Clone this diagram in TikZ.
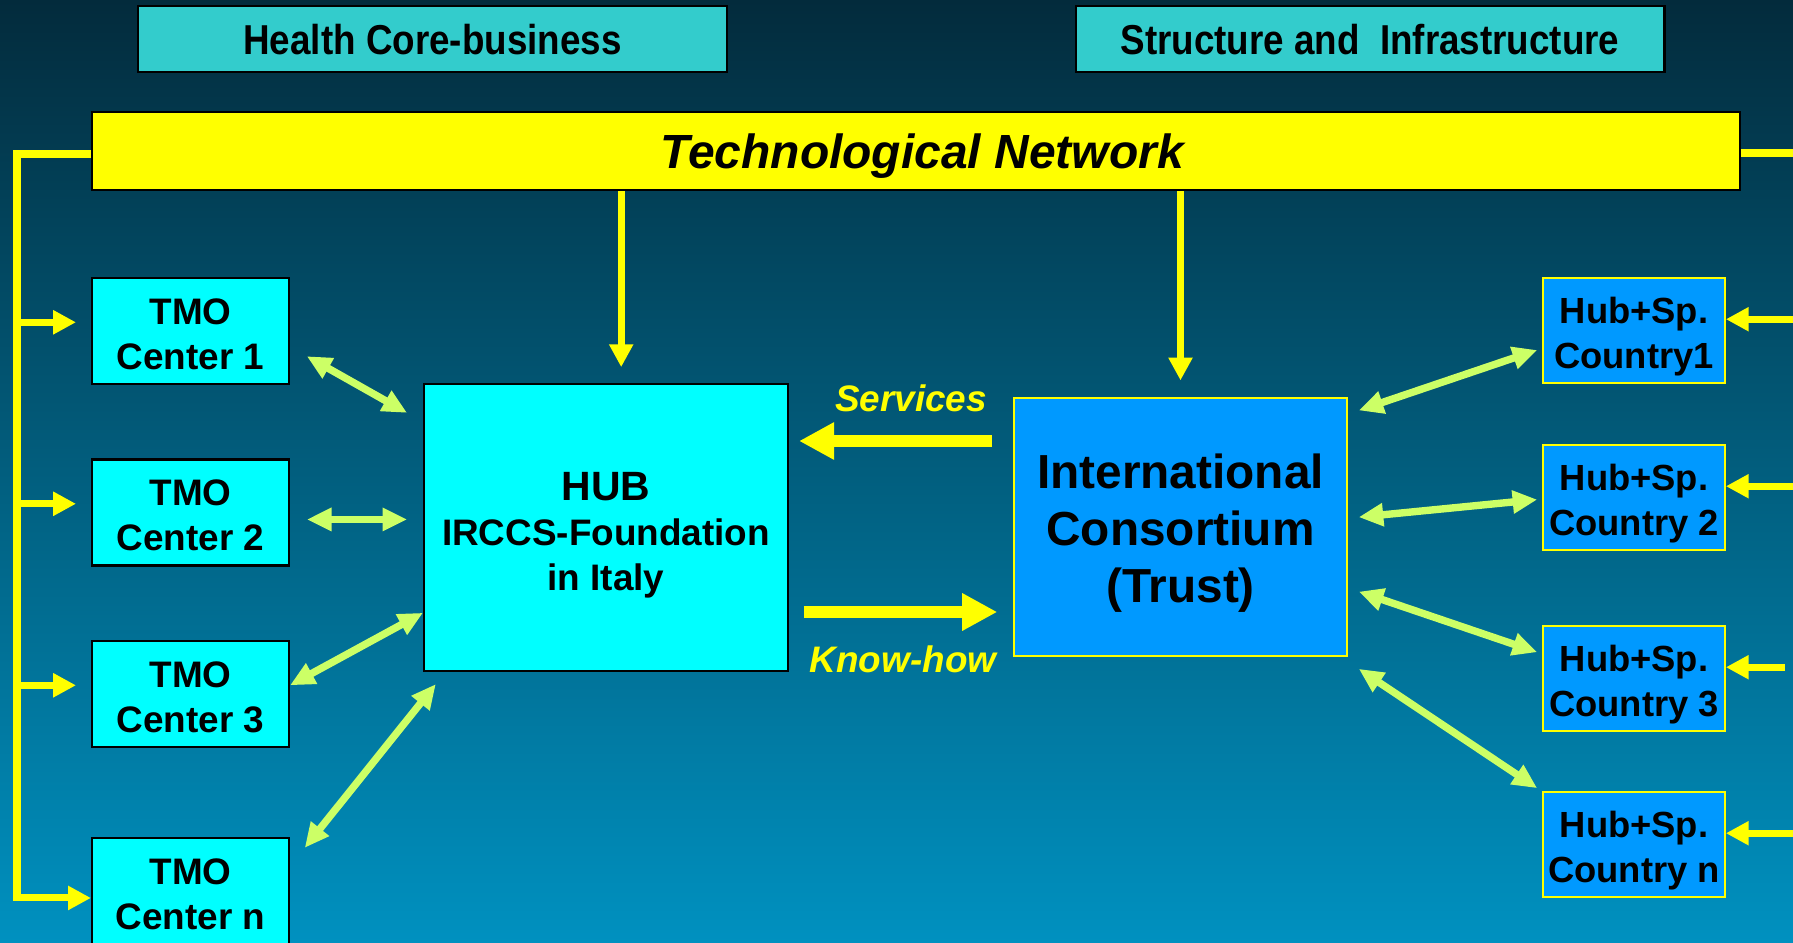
\documentclass[tikz,border=0pt]{standalone}
\usepackage{fontspec}
\setmainfont{Liberation Sans}
\newfontfamily\narrowfont[FakeStretch=0.88]{Liberation Sans}
\usetikzlibrary{arrows.meta}
\definecolor{bgTop}{RGB}{3,43,60}
\definecolor{bgBot}{RGB}{0,145,192}
\definecolor{hdrFill}{RGB}{51,204,204}
\definecolor{tmoFill}{RGB}{0,255,255}
\definecolor{ctyFill}{RGB}{0,153,255}
\definecolor{netYel}{RGB}{255,255,0}
\definecolor{linkGrn}{RGB}{204,255,102}
% stacked lines, lowered without changing the box size
\newcommand\stacklines[2]{\raisebox{-#1}[\height][\depth]{\begin{tabular}{@{}c@{}}#2\end{tabular}}}
\begin{document}
\begin{tikzpicture}[x=0.02cm,y=-0.02cm,
    box/.style={draw=black,line width=1.2pt,inner sep=0pt,
      font=\bfseries\fontsize{21}{25.6}\selectfont},
    hdr/.style={box,fill=hdrFill,minimum width=11.78cm,minimum height=1.32cm,
      text height=17.3pt,text depth=0pt,
      font=\narrowfont\bfseries\fontsize{23.8}{28}\selectfont},
    tmo/.style={box,fill=tmoFill,minimum width=3.94cm,minimum height=2.12cm},
    cty/.style={box,draw=netYel,line width=1pt,fill=ctyFill,minimum width=3.64cm,minimum height=2.1cm,
      font=\bfseries\fontsize{20.7}{25.6}\selectfont},
    feed/.style={draw=netYel,line width=4pt,-{Triangle[length=13pt,width=13pt]}},
    flow/.style={draw=netYel,line width=6.8pt,-{Triangle[length=20pt,width=20pt]}},
    link/.style={draw=linkGrn,line width=4.2pt,
      {Triangle[length=14pt,width=12.5pt]}-{Triangle[length=14pt,width=12.5pt]}},
    lbl/.style={text=netYel,inner sep=0pt,font=\bfseries\itshape\fontsize{21}{25}\selectfont}]
    \def\tx{190.5}
    \def\cx{1634}
    \shade[top color=bgTop,bottom color=bgBot] (0,0) rectangle (1793,943);
    \useasboundingbox (0,0) rectangle (1793,943);
    % headings and network bar
    \node[hdr] (Hdr_0) at (432.5,39) {Health Core-business};
    \node[hdr] (Hdr_1) at (1370,39) {Structure and\ \ Infrastructure};
    \node[box,fill=netYel,minimum width=32.96cm,minimum height=1.56cm,
      text height=19.9pt,text depth=0pt,
      font=\bfseries\itshape\fontsize{27.3}{30}\selectfont] (Net) at (916,151) {\hspace{7pt}Technological Network};
    % centres and countries
    \foreach \i/\y in {1/331,2/512.5,3/694,n/891}
      \node[tmo] (Tmo_\i) at (\tx,\y) {\stacklines{3.8pt}{TMO\\Center \i}};
    \foreach \i/\y/\t in {1/330.5/Country1,2/497.5/Country 2,3/678.5/Country 3,n/844.5/Country n}
      \node[cty] (Cty_\i) at (\cx,\y) {\stacklines{3.7pt}{Hub+Sp.\\\t}};
    \node[box,fill=tmoFill,minimum width=7.28cm,minimum height=5.74cm,
      font=\bfseries\fontsize{21}{25.5}\selectfont] (Hub) at (606,527.5)
      {\stacklines{5pt}{{\fontsize{23.3}{26}\selectfont HUB}\\IRCCS-Foundation\\in Italy}};
    \node[box,draw=netYel,line width=1pt,fill=ctyFill,minimum width=6.66cm,minimum height=5.16cm,
      font=\bfseries\fontsize{27.2}{32.3}\selectfont] (Trust) at (1180.5,527)
      {\stacklines{4pt}{International\ \\Consortium\ \\(Trust)}};
    \node[lbl] (SvcLbl) at (911,398) {Services};
    \node[lbl] (KnowLbl) at (903,659) {Know-how};
    \coordinate (LSpine) at (17,154);
    \coordinate (REdge) at (1793,153);
    \coordinate (REdge3) at (1785,153);
    \coordinate (SvcY) at (0,441);
    \coordinate (KnowY) at (0,612);
    % feeds from the network
    \draw[feed] (Net.west |- LSpine) -- (LSpine) |- (Tmo_n.184);
    \foreach \i in {1,2,3}
      \draw[feed,shorten >=8.5pt] (LSpine |- Tmo_\i.175) -- (Tmo_\i.175);
    \draw[feed,-] (Net.east |- REdge) -- (REdge);
    \foreach \i/\e in {1/REdge,2/REdge,3/REdge3,n/REdge}
      \draw[feed] (\e |- Cty_\i.7) -- (Cty_\i.7);
    \draw[feed,shorten >=9pt] (Net.south -| Hub.84) -- (Hub.84);
    \draw[feed,shorten >=9.5pt] (Net.south -| Trust.north) -- (Trust.north);
    % services and know-how
    \draw[flow,shorten <=12pt,shorten >=5.7pt] (Trust.west |- SvcY) -- (Hub.east |- SvcY);
    \draw[flow,shorten <=8.5pt,shorten >=9pt] (Hub.east |- KnowY) -- (Trust.west |- KnowY);
    % two-way links
    \path (Tmo_1.-9) edge [link,shorten <=11pt,shorten >=10.4pt] (Hub.150);
    \path (Tmo_2.-4) edge [link,shorten <=9.6pt,shorten >=9pt] (Hub.west |- Tmo_2.-4);
    \path (Tmo_3.5) edge [link] (Hub.205);
    \path (Tmo_n.14) edge [link,shorten <=13.4pt,shorten >=8.8pt] (Hub.222);
    \path (Trust.34) edge [link,shorten <=6.6pt,shorten >=3pt] (Cty_1.191);
    \path (Trust.3) edge [link,shorten <=6.2pt,shorten >=2.8pt] (Cty_2.181);
    \path (Trust.-20) edge [link,shorten <=6.6pt,shorten >=3pt] (Cty_3.165);
    \path (Trust.-39) edge [link,shorten <=12.3pt,shorten >=3.4pt] (Cty_n.150);
\end{tikzpicture}
\end{document}
